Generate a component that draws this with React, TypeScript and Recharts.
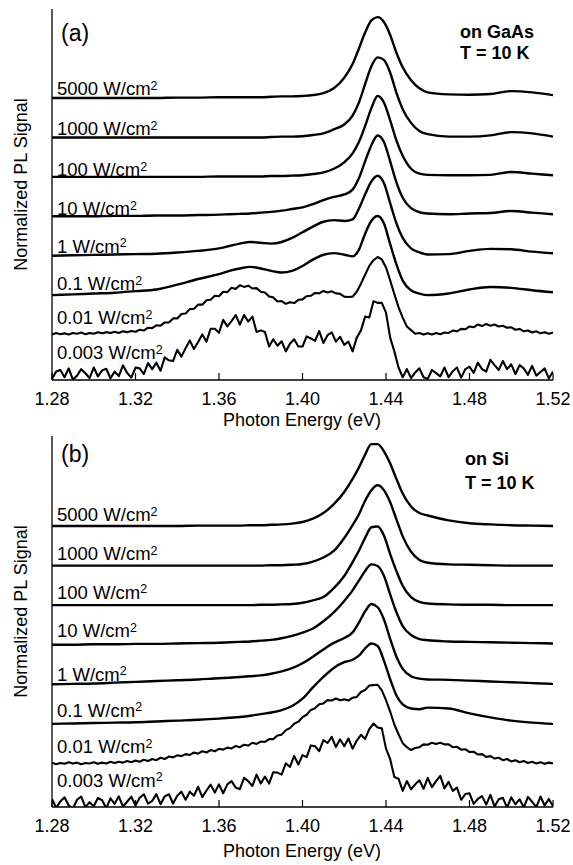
import React from 'react';
import { LineChart, Line, XAxis, YAxis } from 'recharts';

const FONT = '"Liberation Sans", Arial, Helvetica, sans-serif';

// photon energy grids (eV)
const X_SMOOTH = [
  1.28, 1.29, 1.3, 1.31, 1.32, 1.33, 1.34, 1.35, 1.36,
  1.365, 1.37, 1.375, 1.38, 1.385, 1.39, 1.395, 1.4, 1.405,
  1.41, 1.415, 1.42, 1.424, 1.427, 1.43, 1.433, 1.436, 1.439, 1.442, 1.445, 1.448, 1.452, 1.456, 1.46,
  1.47, 1.48, 1.49, 1.5, 1.51, 1.52,
];
const X_NOISY = [
  1.28, 1.282, 1.284, 1.286, 1.288, 1.29, 1.292, 1.294, 1.296, 1.298,
  1.3, 1.302, 1.304, 1.306, 1.308, 1.31, 1.312, 1.314, 1.316, 1.318,
  1.32, 1.322, 1.324, 1.326, 1.328, 1.33, 1.332, 1.334, 1.336, 1.338,
  1.34, 1.342, 1.344, 1.346, 1.348, 1.35, 1.352, 1.354, 1.356, 1.358,
  1.36, 1.362, 1.364, 1.366, 1.368, 1.37, 1.372, 1.374, 1.376, 1.378,
  1.38, 1.382, 1.384, 1.386, 1.388, 1.39, 1.392, 1.394, 1.396, 1.398,
  1.4, 1.402, 1.404, 1.406, 1.408, 1.41, 1.412, 1.414, 1.416, 1.418,
  1.42, 1.422, 1.424, 1.426, 1.428, 1.43, 1.432, 1.434, 1.436, 1.438,
  1.44, 1.442, 1.444, 1.446, 1.448, 1.45, 1.452, 1.454, 1.456, 1.458,
  1.46, 1.462, 1.464, 1.466, 1.468, 1.47, 1.472, 1.474, 1.476, 1.478,
  1.48, 1.482, 1.484, 1.486, 1.488, 1.49, 1.492, 1.494, 1.496, 1.498,
  1.5, 1.502, 1.504, 1.506, 1.508, 1.51, 1.512, 1.514, 1.516, 1.518,
  1.52,
];
const X_TICKS = [1.28, 1.32, 1.36, 1.4, 1.44, 1.48, 1.52];

// excitation power densities (W/cm2), top curve first
const POWERS = ['5000', '1000', '100', '10', '1', '0.1', '0.01', '0.003'];

// (a) on GaAs, normalized PL signal
const GAAS_5000 = [0, 0, 0, 0, 0, 0, 0.005, 0.005, 0.01, 0.01, 0.01, 0.01, 0.01, 0.015, 0.02, 0.02, 0.025, 0.035, 0.06, 0.12, 0.25, 0.42, 0.61, 0.81, 0.96, 1.0, 0.94, 0.78, 0.56, 0.38, 0.22, 0.12, 0.07, 0.045, 0.04, 0.05, 0.085, 0.07, 0.035];
const GAAS_1000 = [0, 0, 0, 0, 0, 0, 0, 0, 0, 0, 0, 0, 0, 0.005, 0.01, 0.01, 0.015, 0.03, 0.05, 0.1, 0.16, 0.27, 0.43, 0.66, 0.88, 0.99, 0.96, 0.8, 0.55, 0.35, 0.18, 0.08, 0.04, 0.01, 0.01, 0.025, 0.065, 0.05, 0.01];
const GAAS_100 = [0, 0, 0, 0, 0, 0, 0, 0, 0.005, 0.005, 0.005, 0.005, 0.005, 0.01, 0.01, 0.015, 0.02, 0.035, 0.055, 0.1, 0.18, 0.29, 0.43, 0.63, 0.85, 1.0, 0.92, 0.7, 0.45, 0.26, 0.1, 0.04, 0.025, 0.02, 0.02, 0.025, 0.06, 0.04, 0.02];
const GAAS_10 = [0, 0, 0, 0.005, 0.005, 0.01, 0.01, 0.015, 0.02, 0.025, 0.03, 0.035, 0.045, 0.055, 0.07, 0.09, 0.11, 0.15, 0.2, 0.24, 0.27, 0.33, 0.47, 0.68, 0.88, 1.0, 0.92, 0.68, 0.42, 0.23, 0.1, 0.05, 0.035, 0.025, 0.035, 0.04, 0.065, 0.045, 0.025];
const GAAS_1 = [0, 0.005, 0.01, 0.015, 0.02, 0.025, 0.04, 0.06, 0.09, 0.12, 0.15, 0.17, 0.16, 0.15, 0.17, 0.22, 0.29, 0.36, 0.42, 0.44, 0.43, 0.45, 0.58, 0.76, 0.92, 0.99, 0.9, 0.65, 0.4, 0.22, 0.09, 0.04, 0.015, 0.02, 0.06, 0.085, 0.08, 0.05, 0.03];
const GAAS_01 = [0, 0.01, 0.02, 0.03, 0.05, 0.07, 0.13, 0.2, 0.26, 0.3, 0.33, 0.35, 0.33, 0.3, 0.28, 0.3, 0.36, 0.44, 0.5, 0.52, 0.5, 0.48, 0.56, 0.76, 0.92, 0.98, 0.89, 0.63, 0.38, 0.18, 0.06, 0.02, 0.0, 0.02, 0.07, 0.1, 0.09, 0.06, 0.035];
const GAAS_001 = [
  0.0, 0.02, 0.005, 0.015, 0.0, 0.02, 0.01, 0.025, 0.005, 0.02,
  0.01, 0.03, 0.015, 0.03, 0.02, 0.035, 0.02, 0.04, 0.03, 0.045,
  0.035, 0.06, 0.05, 0.085, 0.08, 0.115, 0.11, 0.15, 0.15, 0.2,
  0.2, 0.255, 0.26, 0.315, 0.32, 0.37, 0.37, 0.425, 0.43, 0.48,
  0.475, 0.53, 0.525, 0.58, 0.565, 0.61, 0.59, 0.605, 0.57, 0.575,
  0.53, 0.52, 0.47, 0.46, 0.41, 0.415, 0.38, 0.4, 0.39, 0.43,
  0.435, 0.475, 0.48, 0.515, 0.51, 0.54, 0.52, 0.535, 0.51, 0.505,
  0.47, 0.465, 0.47, 0.53, 0.63, 0.74, 0.85, 0.92, 0.96, 0.93,
  0.83, 0.67, 0.5, 0.34, 0.21, 0.1, 0.055, 0.01, 0.02, 0.0,
  0.015, 0.0, 0.02, 0.005, 0.025, 0.02, 0.05, 0.04, 0.07, 0.065,
  0.1, 0.09, 0.125, 0.105, 0.13, 0.11, 0.125, 0.1, 0.11, 0.085,
  0.09, 0.06, 0.07, 0.04, 0.05, 0.025, 0.04, 0.015, 0.03, 0.01,
  0.025,
];
const GAAS_0003 = [
  -0.06, 0.03, 0.05, -0.04, 0.07, -0.07, -0.02, 0.06, 0.01, -0.05,
  0.08, -0.03, 0.045, 0.065, -0.052, 0.03, -0.026, 0.108, 0.012, -0.044,
  0.08, 0.07, 0.0, 0.135, 0.06, 0.14, 0.04, 0.205, 0.17, 0.16,
  0.3, 0.215, 0.32, 0.415, 0.31, 0.395, 0.49, 0.4, 0.56, 0.56,
  0.51, 0.67, 0.59, 0.655, 0.73, 0.61, 0.73, 0.65, 0.71, 0.52,
  0.54, 0.52, 0.34, 0.43, 0.35, 0.405, 0.28, 0.375, 0.43, 0.34,
  0.34, 0.465, 0.44, 0.41, 0.53, 0.385, 0.48, 0.515, 0.4, 0.46,
  0.36, 0.4, 0.28, 0.45, 0.54, 0.71, 0.7, 0.9, 0.88, 0.88,
  0.76, 0.45, 0.28, 0.08, -0.04, 0.06, -0.05, 0.02, 0.07, -0.04,
  -0.06, 0.05, 0.01, -0.03, 0.08, -0.04, 0.035, 0.08, -0.045, 0.06,
  0.09, 0.015, 0.14, 0.06, 0.03, 0.175, 0.11, 0.05, 0.16, 0.06,
  0.12, 0.0, 0.11, 0.07, -0.01, 0.1, -0.02, 0.025, 0.07, -0.055,
  0.03,
];

// (b) on Si, normalized PL signal
const SI_5000 = [0, 0, 0, 0, 0, 0, 0, 0.005, 0.005, 0.005, 0.005, 0.01, 0.01, 0.015, 0.02, 0.03, 0.05, 0.09, 0.16, 0.27, 0.42, 0.58, 0.72, 0.88, 1.01, 1.01, 0.92, 0.77, 0.58, 0.4, 0.24, 0.16, 0.13, 0.07, 0.035, 0.02, 0.01, 0.005, 0];
const SI_1000 = [0, 0, 0, 0, 0, 0, 0, 0, 0, 0, 0, 0, 0, 0.005, 0.005, 0.01, 0.02, 0.05, 0.1, 0.18, 0.34, 0.5, 0.63, 0.8, 0.93, 0.99, 0.93, 0.78, 0.57, 0.36, 0.17, 0.07, 0.035, 0.015, 0.01, 0.005, 0, 0, 0];
const SI_100 = [0, 0, 0, 0, 0, 0, 0, 0, 0, 0, 0, 0, 0.005, 0.005, 0.01, 0.015, 0.03, 0.06, 0.1, 0.21, 0.36, 0.53, 0.67, 0.83, 0.96, 0.97, 0.86, 0.63, 0.42, 0.24, 0.1, 0.04, 0.02, 0.01, 0.005, 0.005, 0, 0, 0];
const SI_10 = [0, 0, 0.005, 0.005, 0.01, 0.01, 0.015, 0.02, 0.025, 0.03, 0.035, 0.04, 0.05, 0.06, 0.08, 0.11, 0.15, 0.2, 0.29, 0.4, 0.54, 0.67, 0.79, 0.91, 0.99, 0.97, 0.85, 0.62, 0.4, 0.23, 0.12, 0.07, 0.055, 0.04, 0.035, 0.03, 0.025, 0.02, 0.015];
const SI_1 = [0, 0.005, 0.01, 0.02, 0.03, 0.04, 0.05, 0.06, 0.075, 0.08, 0.09, 0.1, 0.11, 0.13, 0.16, 0.2, 0.26, 0.34, 0.43, 0.51, 0.57, 0.64, 0.76, 0.9, 0.99, 0.95, 0.8, 0.56, 0.34, 0.19, 0.1, 0.07, 0.06, 0.055, 0.045, 0.035, 0.025, 0.015, 0.005];
const SI_01 = [0, 0.005, 0.01, 0.015, 0.02, 0.03, 0.04, 0.05, 0.065, 0.075, 0.085, 0.1, 0.12, 0.14, 0.17, 0.22, 0.31, 0.45, 0.58, 0.69, 0.76, 0.79, 0.84, 0.93, 0.99, 0.96, 0.78, 0.55, 0.35, 0.24, 0.19, 0.18, 0.2, 0.19, 0.13, 0.08, 0.04, 0.015, 0.0];
const SI_001 = [
  0.01, -0.01, 0.005, -0.005, 0.015, 0.0, 0.01, -0.01, 0.005, 0.0,
  0.015, -0.005, 0.01, 0.0, 0.02, 0.005, 0.02, 0.01, 0.03, 0.015,
  0.035, 0.02, 0.045, 0.03, 0.055, 0.04, 0.07, 0.055, 0.085, 0.075,
  0.1, 0.09, 0.115, 0.105, 0.135, 0.12, 0.15, 0.135, 0.165, 0.15,
  0.18, 0.17, 0.195, 0.185, 0.215, 0.2, 0.23, 0.22, 0.255, 0.24,
  0.27, 0.265, 0.3, 0.3, 0.345, 0.355, 0.41, 0.435, 0.49, 0.515,
  0.57, 0.6, 0.66, 0.68, 0.73, 0.74, 0.78, 0.775, 0.8, 0.78,
  0.79, 0.775, 0.81, 0.82, 0.88, 0.905, 0.96, 0.965, 0.97, 0.9,
  0.78, 0.64, 0.48, 0.36, 0.25, 0.2, 0.165, 0.19, 0.2, 0.235,
  0.23, 0.255, 0.24, 0.255, 0.235, 0.235, 0.2, 0.205, 0.17, 0.175,
  0.14, 0.145, 0.11, 0.115, 0.08, 0.09, 0.06, 0.07, 0.04, 0.055,
  0.025, 0.04, 0.015, 0.03, 0.005, 0.02, 0.0, 0.015, -0.005, 0.01,
  0.0,
];
const SI_0003 = [
  0.05, -0.06, 0.02, 0.07, -0.03, -0.07, 0.04, 0.08, -0.05, 0.01,
  -0.04, 0.062, 0.034, -0.064, 0.058, -0.01, 0.082, -0.046, 0.016, 0.078,
  -0.03, 0.064, 0.108, -0.008, 0.026, 0.11, -0.014, 0.082, 0.108, -0.006,
  0.09, 0.14, 0.04, 0.14, 0.09, 0.2, 0.072, 0.154, 0.226, 0.128,
  0.23, 0.12, 0.23, 0.27, 0.19, 0.17, 0.31, 0.27, 0.21, 0.35,
  0.24, 0.325, 0.24, 0.38, 0.375, 0.35, 0.49, 0.445, 0.58, 0.475,
  0.59, 0.565, 0.71, 0.7, 0.64, 0.775, 0.74, 0.815, 0.69, 0.785,
  0.7, 0.795, 0.67, 0.77, 0.84, 0.79, 0.91, 0.98, 0.93, 0.92,
  0.67, 0.54, 0.32, 0.3, 0.15, 0.27, 0.17, 0.23, 0.28, 0.175,
  0.31, 0.195, 0.27, 0.335, 0.18, 0.26, 0.15, 0.19, 0.04, 0.11,
  0.12, -0.01, 0.05, 0.085, -0.02, 0.1, -0.042, 0.046, 0.064, -0.058,
  0.07, -0.015, 0.045, -0.055, 0.075, 0.015, -0.05, 0.08, -0.03, 0.05,
  -0.04,
];

// vertical offset between spectra is 1 unit, peak height about 2 units
const AMP = 2.05;

type Curve = { x: number[]; v: number[]; noisy: boolean };

const GAAS_CURVES: Curve[] = [
  { x: X_SMOOTH, v: GAAS_5000, noisy: false },
  { x: X_SMOOTH, v: GAAS_1000, noisy: false },
  { x: X_SMOOTH, v: GAAS_100, noisy: false },
  { x: X_SMOOTH, v: GAAS_10, noisy: false },
  { x: X_SMOOTH, v: GAAS_1, noisy: false },
  { x: X_SMOOTH, v: GAAS_01, noisy: false },
  { x: X_NOISY, v: GAAS_001, noisy: true },
  { x: X_NOISY, v: GAAS_0003, noisy: true },
];
const SI_CURVES: Curve[] = [
  { x: X_SMOOTH, v: SI_5000, noisy: false },
  { x: X_SMOOTH, v: SI_1000, noisy: false },
  { x: X_SMOOTH, v: SI_100, noisy: false },
  { x: X_SMOOTH, v: SI_10, noisy: false },
  { x: X_SMOOTH, v: SI_1, noisy: false },
  { x: X_SMOOTH, v: SI_01, noisy: false },
  { x: X_NOISY, v: SI_001, noisy: true },
  { x: X_NOISY, v: SI_0003, noisy: true },
];

// label baselines (px) for the power density texts
const GAAS_LABEL_Y = [95, 135, 176, 215, 252.5, 290, 324, 359];
const SI_LABEL_Y = [521, 560, 598.5, 637, 680.5, 716.5, 753, 786.5];

function stack(curves: Curve[]) {
  return curves.map((c, i) => {
    const offset = curves.length - 1 - i;
    return c.x.map((x, j) => ({ x, y: offset + AMP * c.v[j] }));
  });
}

const AXIS_LINE = { stroke: '#000', strokeWidth: 1.3 };

// ticks point into the plot
function InTick(props: any) {
  const { x, y, payload } = props;
  return (
    <g>
      <line x1={x} y1={y} x2={x} y2={y - 7} stroke="#000" strokeWidth={1.2} />
      <text x={x} y={y + 24.5} textAnchor="middle" fontSize={18} fontFamily={FONT} fill="#000">
        {Number(payload.value).toFixed(2)}
      </text>
    </g>
  );
}

function Panel({ curves, domain, height, xAxisHeight }: { curves: Curve[]; domain: [number, number]; height: number; xAxisHeight: number }) {
  const stacked = stack(curves);
  return (
    <LineChart width={573} height={height} margin={{ top: 9, right: 20, bottom: 0, left: 0 }}>
      <XAxis
        dataKey="x"
        type="number"
        domain={[1.28, 1.52]}
        ticks={X_TICKS}
        interval={0}
        allowDataOverflow
        height={xAxisHeight}
        tickSize={0}
        tickMargin={0}
        tickLine={false}
        tick={(p: any) => <InTick {...p} />}
        axisLine={AXIS_LINE}
      />
      <XAxis xAxisId="top" orientation="top" type="number" domain={[1.28, 1.52]} height={0} tick={false} tickLine={false} axisLine={AXIS_LINE} />
      <YAxis type="number" domain={domain} allowDataOverflow width={52} tick={false} tickLine={false} axisLine={AXIS_LINE} />
      <YAxis yAxisId="right" orientation="right" type="number" domain={domain} width={0} tick={false} tickLine={false} axisLine={AXIS_LINE} />
      {stacked.map((d, i) => (
        <Line
          key={i}
          data={d}
          dataKey="y"
          type={curves[i].noisy ? 'linear' : 'monotone'}
          stroke="#000"
          strokeWidth={curves[i].noisy ? 2.1 : 2.4}
          strokeLinejoin="round"
          dot={false}
          isAnimationActive={false}
        />
      ))}
    </LineChart>
  );
}

function PowerLabel({ x, y, p }: { x: number; y: number; p: string }) {
  return (
    <text x={x} y={y} fontSize={18.5} fill="#000">
      {p} W/cm
      <tspan fontSize={12.5} dy={-5.5}>2</tspan>
    </text>
  );
}

function Annotations() {
  return (
    <svg width={573} height={865} style={{ position: 'absolute', left: 0, top: 0, pointerEvents: 'none' }} fontFamily={FONT}>
      {POWERS.map((p, i) => (
        <PowerLabel key={'a' + p} x={57} y={GAAS_LABEL_Y[i]} p={p} />
      ))}
      {POWERS.map((p, i) => (
        <PowerLabel key={'b' + p} x={57} y={SI_LABEL_Y[i]} p={p} />
      ))}
      <text x={61} y={40.5} fontSize={23}>(a)</text>
      <text x={61} y={462} fontSize={23}>(b)</text>
      <text x={460} y={37.5} fontSize={18} fontWeight="bold">on GaAs</text>
      <text x={460} y={58.5} fontSize={18} fontWeight="bold">T = 10 K</text>
      <text x={465} y={464.5} fontSize={18} fontWeight="bold">on Si</text>
      <text x={465} y={488.5} fontSize={18} fontWeight="bold">T = 10 K</text>
      <text x={302} y={426} fontSize={18} textAnchor="middle">Photon Energy (eV)</text>
      <text x={302} y={857} fontSize={18} textAnchor="middle">Photon Energy (eV)</text>
      <text x={26.5} y={184.5} fontSize={18} textAnchor="middle" transform="rotate(-90 26.5 184.5)">Normalized PL Signal</text>
      <text x={26.5} y={611.5} fontSize={18} textAnchor="middle" transform="rotate(-90 26.5 611.5)">Normalized PL Signal</text>
    </svg>
  );
}

export default function App() {
  return (
    <div style={{ position: 'absolute', left: 0, top: 0, width: 573, height: 865, background: '#fff', fontFamily: FONT }}>
      <div style={{ position: 'absolute', left: 0, top: 0 }}>
        <Panel curves={GAAS_CURVES} domain={[-0.152, 9.257]} height={432} xAxisHeight={52} />
      </div>
      <div style={{ position: 'absolute', left: 0, top: 427 }}>
        <Panel curves={SI_CURVES} domain={[-0.101, 9.275]} height={438} xAxisHeight={58} />
      </div>
      <Annotations />
    </div>
  );
}
